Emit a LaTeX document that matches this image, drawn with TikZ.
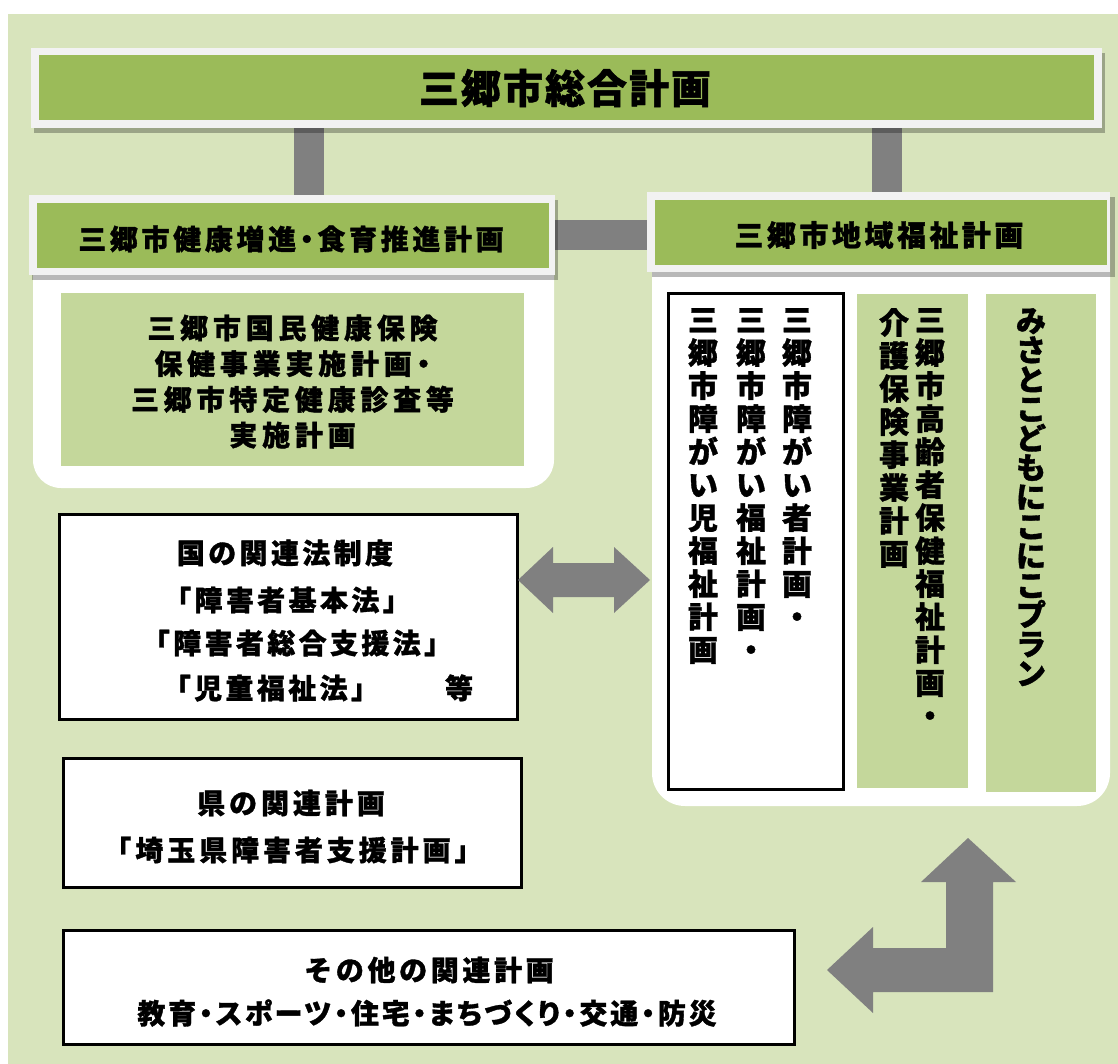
\documentclass[tikz,border=0pt]{standalone}
\usepackage{fontspec}
\setmainfont{Noto Sans CJK JP}[BoldFeatures={FakeBold=1.2}]
\definecolor{bgc}{HTML}{D8E4BC}
\definecolor{hdc}{HTML}{9BBB59}
\definecolor{ltc}{HTML}{C4D79B}
\definecolor{frc}{HTML}{F2F2F2}
\definecolor{cnc}{HTML}{808080}
\newcommand\LS[1]{\addfontfeatures{LetterSpace=#1}}
\newcommand\PALT{\addfontfeatures{RawFeature=+palt}}
\newcommand\TX[1]{\bfseries\fontsize{#1}{#1}\selectfont}
\ExplSyntaxOn
\NewDocumentCommand\vstack{mm}{
  \vbox{
    \skip_set:Nn \baselineskip {#1pt}
    \dim_set:Nn \lineskiplimit {-100pt}
    \tl_map_inline:nn {#2} {\hbox_to_wd:nn {1.2em} {\hss ##1 \hss}}
  }
}
\ExplSyntaxOff
\pgfdeclarelayer{L0}\pgfdeclarelayer{L1}\pgfdeclarelayer{L2}\pgfdeclarelayer{L3}
\pgfsetlayers{L0,L1,L2,L3,main}
\begin{document}
\begin{tikzpicture}[x=1pt,y=-1pt,
  frame/.style={fill=frc,inner sep=0pt,outer sep=0pt,anchor=north west},
  wbox/.style={draw=black,line width=3pt,fill=white,inner sep=0pt,outer sep=0pt,anchor=north west},
  lbox/.style={fill=ltc,inner sep=0pt,outer sep=0pt,anchor=north west},
  bar/.style={draw=cnc,line width=30pt},
  shd/.style={fill=black,fill opacity=.28},
  txt/.style={inner sep=0pt},
  vt/.style={inner sep=0pt,anchor=north,font=\TX{30}},
  blk/.style={fill=cnc}]
\useasboundingbox (0,0) rectangle (1118,1064);
\begin{pgfonlayer}{L0}
\fill[white] (0,0) rectangle (1118,1064);
\fill[bgc] (8,14) rectangle (1118,1064);
\end{pgfonlayer}
% header boxes
\node[frame,minimum width=1071pt,minimum height=80pt] (top) at (31,48) {};
\node[frame,minimum width=526pt,minimum height=80pt] (lh) at (29,195) {};
\node[frame,minimum width=463pt,minimum height=80pt] (rh) at (647,192) {};
\fill[hdc] ([shift={(7.5,7)}]top.north west) rectangle ([shift={(-8,-8)}]top.south east);
\fill[hdc] ([shift={(8,8)}]lh.north west) rectangle ([shift={(-6,-7)}]lh.south east);
\fill[hdc] ([shift={(8,8)}]rh.north west) rectangle ([shift={(-3,-7)}]rh.south east);
\begin{pgfonlayer}{L3}
\fill[shd] ([shift={(3,5)}]top.north west) rectangle ([shift={(3,5)}]top.south east);
\fill[shd] ([shift={(3,5)}]lh.north west) rectangle ([shift={(3,5)}]lh.south east);
\fill[shd] ([shift={(5,5)}]rh.north west) rectangle ([shift={(5,5)}]rh.south east);
\end{pgfonlayer}
% connectors
\coordinate (c1) at (309,0);
\coordinate (c2) at (887,0);
\begin{pgfonlayer}{L1}
\draw[bar] (c1 |- top.south) -- (c1 |- lh.north);
\draw[bar] (c2 |- top.south) -- (c2 |- rh.north);
\draw[bar] (lh.east) -- (lh.east -| rh.west);
\end{pgfonlayer}
% white panels
\begin{pgfonlayer}{L2}
\fill[white,rounded corners=28pt] (33,200) rectangle (554,488);
\fill[white,rounded corners=33pt] (652,200) rectangle (1110,806);
\end{pgfonlayer}
% header texts
\node[txt,font={\TX{40}\LS{5}}] (tt) at (565,88) {三郷市総合計画};
\node[txt,font={\TX{28}\PALT\LS{13}}] (lht) at (291,239) {三郷市健康増進・食育推進計画};
\node[txt,font={\TX{29}\LS{12}}] (rht) at (879,235) {三郷市地域福祉計画};
% left inner panel
\node[lbox,minimum width=463pt,minimum height=173pt] (lp) at (61,293) {};
\node[txt,align=center,font={\bfseries\fontsize{28}{35.7}\selectfont\PALT\LS{17}}] (lpt) at ([yshift=-2pt]lp.center) {三郷市国民健康保険\\保健事業実施計画・\\三郷市特定健康診査等\\実施計画};
% right inner boxes
\node[wbox,minimum width=175pt,minimum height=495pt] (b1) at (668,294) {};
\node[lbox,minimum width=111pt,minimum height=494pt] (b2) at (857,294) {};
\node[lbox,minimum width=110pt,minimum height=498pt] (b3) at (986,294) {};
\node[vt] (v1) at (797,308) {\vstack{33}{三郷市障がい者計画・}};
\node[vt] (v2) at (751,308) {\vstack{33}{三郷市障がい福祉計画・}};
\node[vt] (v3) at (703,308) {\vstack{33}{三郷市障がい児福祉計画}};
\node[vt] (v4) at (930,308) {\vstack{33}{三郷市高齢者保健福祉計画・}};
\node[vt] (v5) at (894,308) {\vstack{33}{介護保険事業計画}};
\node[vt] (v6) at (1031,308) {\vstack{29.4}{みさとこどもにこにこプラン}};
% left boxes
\node[wbox,minimum width=458pt,minimum height=205pt] (k1) at (59,514) {};
\node[wbox,minimum width=458pt,minimum height=129pt] (k2) at (63,758) {};
\node[wbox,minimum width=731pt,minimum height=114pt] (k3) at (63,930) {};
\node[txt,font={\TX{28}\LS{12}}] (k1a) at (285,553) {国の関連法制度};
\node[txt,font={\TX{28}\LS{12}}] (k1b) at (287,600) {「障害者基本法」};
\node[txt,font={\TX{28}\LS{12}}] (k1c) at (297,643) {「障害者総合支援法」};
\node[txt,font={\TX{28}\LS{12}}] (k1d) at (318,688) {「児童福祉法」　　等};
\node[txt,font={\TX{28}\LS{14}}] (k2a) at (291,803) {県の関連計画};
\node[txt,font={\TX{28}\LS{14}}] (k2b) at (293,850) {「埼玉県障害者支援計画」};
\node[txt,font={\TX{28}\LS{13}}] (k3a) at (429,970) {その他の関連計画};
\node[txt,font={\TX{28}\PALT\LS{10}}] (k3b) at (427,1013) {教育・スポーツ・住宅・まちづくり・交通・防災};
% block arrows
\fill[blk] (518,580) -- (553,547) -- (553,563) -- (614,563) -- (614,547) -- (650,580) -- (614,613) -- (614,597) -- (553,597) -- (553,613) -- cycle;
\fill[blk] (968,838) -- (1016,882) -- (993,882) -- (993,992) -- (873,992) -- (873,1013) -- (827,970) -- (873,927) -- (873,948) -- (946,948) -- (946,882) -- (921,882) -- cycle;
\end{tikzpicture}
\end{document}
